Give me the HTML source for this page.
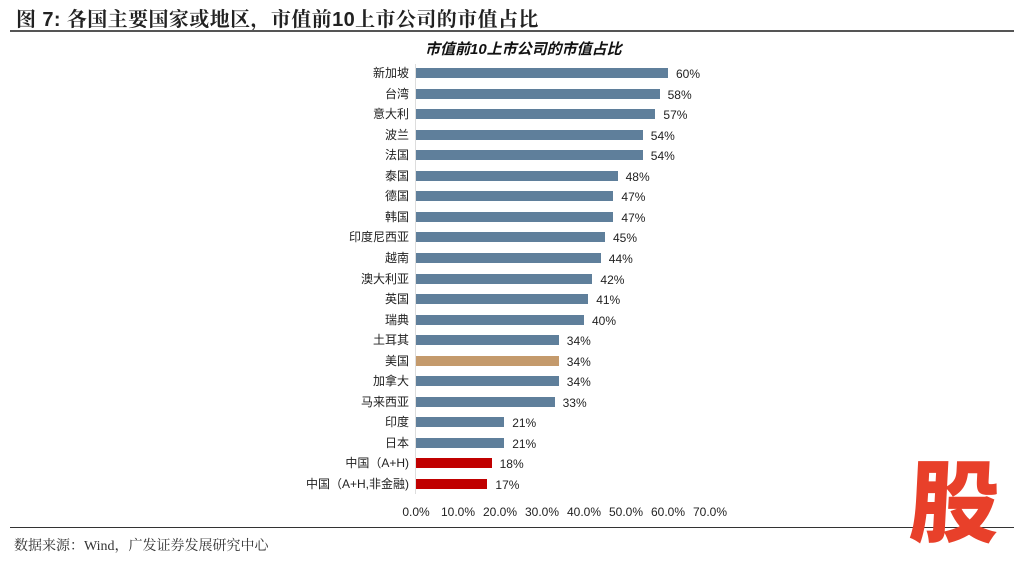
<!DOCTYPE html>
<html><head><meta charset="utf-8"><style>
body{margin:0;width:1024px;height:556px;background:#fff;position:relative;overflow:hidden;font-family:"Liberation Sans","Noto Sans CJK SC",sans-serif;}
.a{position:absolute;white-space:nowrap;}
.lab{position:absolute;right:615px;font-size:12px;color:#222;line-height:14px;}
.bar{position:absolute;left:416px;height:10px;}
.val{position:absolute;font-size:12px;color:#222;line-height:14px;}
.tk{position:absolute;top:505px;font-size:12px;color:#222;width:50px;text-align:center;}
</style></head><body>
<div class="a" style="left:16px;top:3px;font-size:20px;font-weight:bold;color:#222;font-family:'Liberation Sans','Noto Serif CJK SC',serif;letter-spacing:0.4px">图 7: 各国主要国家或地区，市值前10上市公司的市值占比</div>
<div class="a" style="left:10px;top:30px;width:1004px;height:2px;background:#555"></div>
<div class="a" style="left:425px;top:38px;font-size:15px;font-weight:bold;font-style:italic;color:#111">市值前10上市公司的市值占比</div>
<div class="a" style="left:415px;top:64px;width:1px;height:430px;background:#ddd"></div>
<div id="c"></div>
<div class="a" style="left:10px;top:527px;width:1004px;height:1px;background:#333"></div>
<div class="a" style="left:14px;top:535px;font-size:14px;color:#333;font-family:'Liberation Serif','Noto Serif CJK SC',serif">数据来源：Wind，广发证券发展研究中心</div>
<div class="a" style="left:910px;top:448px;font-size:90px;line-height:96px;font-weight:900;color:#e8402a;transform:skewX(-3deg);font-family:'Noto Sans CJK SC',sans-serif">股</div>
<script>
var d=[["新加坡",60],["台湾",58],["意大利",57],["波兰",54],["法国",54],["泰国",48],["德国",47],["韩国",47],["印度尼西亚",45],["越南",44],["澳大利亚",42],["英国",41],["瑞典",40],["土耳其",34],["美国",34],["加拿大",34],["马来西亚",33],["印度",21],["日本",21],["中国（A+H)",18],["中国（A+H,非金融)",17]];
var h="";
d.forEach(function(r,i){var y=73+i*20.55;var w=r[1]*4.2;var c=i==14?"#c49a6c":(i>=19?"#c00000":"#5f7f9b");
h+='<div class="lab" style="top:'+(y-7)+'px">'+r[0]+'</div>';
h+='<div class="bar" style="top:'+(y-5)+'px;width:'+w+'px;background:'+c+'"></div>';
h+='<div class="val" style="top:'+(y-6)+'px;left:'+(416+w+8)+'px">'+r[1]+'%</div>';});
for(var k=0;k<=7;k++){h+='<div class="tk" style="left:'+(416+42*k-25)+'px">'+(k*10)+'.0%</div>';}
document.getElementById("c").innerHTML=h;
</script>
</body></html>
